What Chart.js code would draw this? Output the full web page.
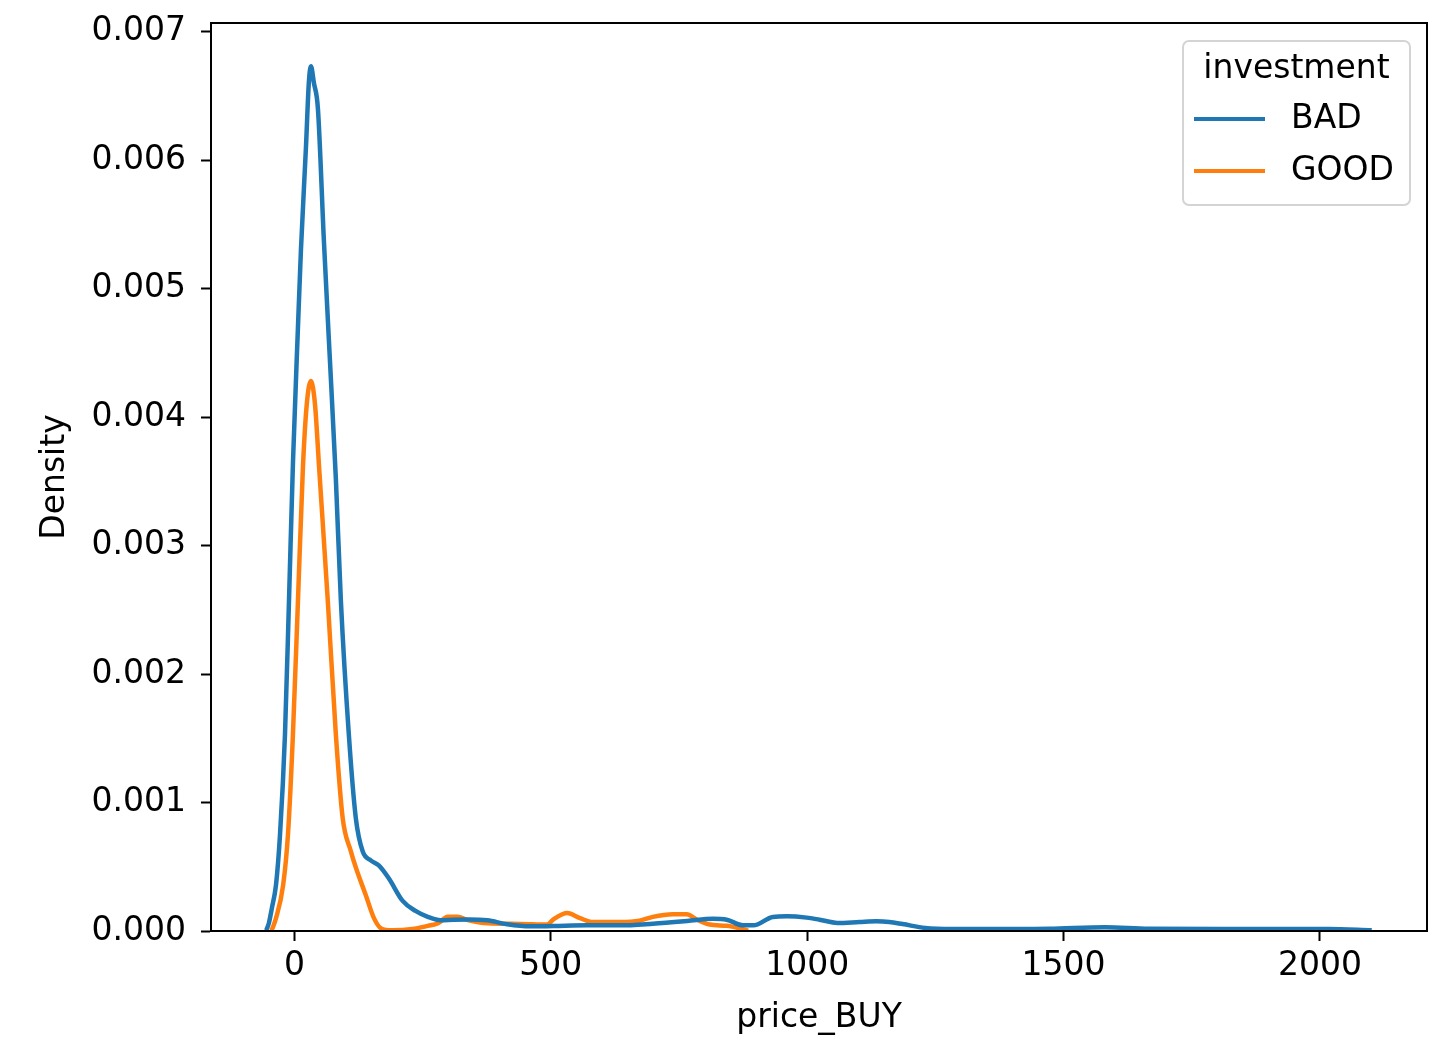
<!DOCTYPE html>
<html><head><meta charset="utf-8">
<script src="https://cdn.jsdelivr.net/npm/chart.js@4.4.1/dist/chart.umd.min.js"></script>
<style>html,body{margin:0;padding:0;background:#fff;overflow:hidden}#wrap{width:1453px;height:1038px}</style>
</head><body><div id="wrap"><canvas id="c" width="1453" height="1038"></canvas></div>
<script>
const seriesNames = ['BAD', 'GOOD'];
const seriesColors = ['#1f77b4', '#ff7f0e'];
const legendTitle = 'investment';
const xAxisTitle = 'price_BUY';
const yAxisTitle = 'Density';
const xTickValues = [0, 500, 1000, 1500, 2000];
const yTickValues = [0, 0.001, 0.002, 0.003, 0.004, 0.005, 0.006, 0.007];

const badPrice = [-55, -50, -44, -36, -28.2, -18.5, -10.7, -2.9, 6.8, 12.6, 22.4, 28, 32.1, 37.9, 45.7, 57.4, 67.1, 80.7, 90.5, 106, 119.6, 133, 148.8, 164.4, 183.9, 211, 236, 260, 285, 310, 340, 376, 415, 460, 505, 571, 635, 699, 766, 816, 843, 875, 895, 933, 960, 999, 1024, 1059, 1102, 1135, 1160, 1186, 1230, 1283, 1374, 1472, 1581, 1666, 1861, 2017, 2101];
const badDensity = [0.000005, 0.00006, 0.00018, 0.00036, 0.00075, 0.00153, 0.00257, 0.00365, 0.0047, 0.0053, 0.0061, 0.0066, 0.00673, 0.0066, 0.0064, 0.00537, 0.0046, 0.00352, 0.00257, 0.00153, 0.00088, 0.00062, 0.00055, 0.00051, 0.00041, 0.000234, 0.000156, 0.00011, 0.000083, 0.000088, 0.00009, 0.000083, 0.000052, 0.000036, 0.000039, 0.000044, 0.000044, 0.000057, 0.000078, 0.000096, 0.000088, 0.000044, 0.000044, 0.000109, 0.000114, 0.000104, 0.000088, 0.000063, 0.00007, 0.000075, 0.00007, 0.000054, 0.000024, 0.000016, 0.000016, 0.000018, 0.00003, 0.000018, 0.000016, 0.000015, 0.000005];

const goodPrice = [-45, -42, -36, -22, -12.7, -3, 6.8, 16.5, 24, 32.1, 40, 48, 65, 80.7, 94, 110, 120, 139, 155, 169, 190, 230, 260, 280, 299, 318, 338, 377, 441, 493, 505, 532, 557, 582, 634, 673, 699, 738, 765, 784, 810, 843, 869, 885];
const goodDensity = [0.000005, 0.00003, 0.0001, 0.00036, 0.00075, 0.00153, 0.00257, 0.00361, 0.0041, 0.00428, 0.0041, 0.00361, 0.00257, 0.00153, 0.00088, 0.00062, 0.00049, 0.00028, 0.0001, 0.00002, 0.000005, 0.000015, 0.00004, 0.00006, 0.00011, 0.00011, 0.000085, 0.00006, 0.000055, 0.00005, 0.00009, 0.00014, 0.0001, 0.00007, 0.00007, 0.00008, 0.00011, 0.00013, 0.00013, 0.00009, 0.00005, 0.00004, 0.00002, 0.000003];

const toPoints = (xs, ys) => xs.map((x, i) => ({x: x, y: ys[i]}));
const allX = badPrice.concat(goodPrice);
const allY = badDensity.concat(goodDensity);
const xLo = Math.min(...allX), xHi = Math.max(...allX);
const xPad = (xHi - xLo) * 0.05;
const yMax = Math.max(...allY) * 1.05;

const FONT = 'DejaVu Sans';
const FS = 33;

const framePlugin = {
  id: 'frame',
  afterDraw(chart) {
    const {ctx, chartArea: a} = chart;
    ctx.save();
    ctx.strokeStyle = '#000';
    ctx.lineWidth = 2;
    ctx.strokeRect(a.left, a.top, a.right - a.left, a.bottom - a.top);
    ctx.restore();
  }
};

const legendPlugin = {
  id: 'mplLegend',
  afterDraw(chart) {
    const {ctx, chartArea: a} = chart;
    const bw = 227, bh = 164;
    const bx = a.right - 17 - bw, by = a.top + 18;
    ctx.save();
    ctx.beginPath();
    if (ctx.roundRect) ctx.roundRect(bx, by, bw, bh, 6); else ctx.rect(bx, by, bw, bh);
    ctx.fillStyle = 'rgba(255,255,255,0.8)';
    ctx.fill();
    ctx.strokeStyle = '#d4d4d4';
    ctx.lineWidth = 2;
    ctx.stroke();
    ctx.font = FS + 'px "' + FONT + '"';
    ctx.fillStyle = '#000';
    ctx.textBaseline = 'middle';
    ctx.textAlign = 'center';
    ctx.fillText(legendTitle, bx + bw / 2, by + 28);
    ctx.textAlign = 'left';
    chart.data.datasets.forEach((ds, i) => {
      const ly = by + 78 + i * 52;
      ctx.strokeStyle = ds.borderColor;
      ctx.lineWidth = 4;
      ctx.beginPath();
      ctx.moveTo(bx + 11, ly);
      ctx.lineTo(bx + 82, ly);
      ctx.stroke();
      ctx.fillStyle = '#000';
      ctx.fillText(ds.label, bx + 108, ly);
    });
    ctx.restore();
  }
};

new Chart(document.getElementById('c'), {
  type: 'line',
  data: {
    datasets: [
      {label: seriesNames[0], data: toPoints(badPrice, badDensity), borderColor: seriesColors[0], backgroundColor: seriesColors[0], borderWidth: 4.5, pointRadius: 0, cubicInterpolationMode: 'monotone', fill: false},
      {label: seriesNames[1], data: toPoints(goodPrice, goodDensity), borderColor: seriesColors[1], backgroundColor: seriesColors[1], borderWidth: 4.5, pointRadius: 0, cubicInterpolationMode: 'monotone', fill: false}
    ]
  },
  options: {
    responsive: false,
    animation: false,
    devicePixelRatio: 1,
    layout: {padding: {left: 0, right: 26, top: 23, bottom: 0}},
    plugins: {legend: {display: false}, tooltip: {enabled: false}},
    scales: {
      x: {
        type: 'linear',
        min: xLo - xPad,
        max: xHi + xPad,
        afterBuildTicks(s) { s.ticks = xTickValues.map(v => ({value: v})); },
        afterFit(s) { s.height = 107; s.paddingLeft = 0; s.paddingRight = 0; },
        border: {display: true, color: '#000', width: 2},
        grid: {display: true, drawOnChartArea: false, drawTicks: true, tickLength: 10, color: '#000', tickWidth: 2},
        ticks: {autoSkip: false, color: '#000', padding: 6, maxRotation: 0, font: {family: FONT, size: FS}, callback: v => String(v)},
        title: {display: true, text: xAxisTitle, color: '#000', font: {family: FONT, size: FS}, padding: {top: 0, bottom: 0}}
      },
      y: {
        type: 'linear',
        min: 0,
        max: yMax,
        afterBuildTicks(s) { s.ticks = yTickValues.map(v => ({value: v})); },
        afterFit(s) { s.width = 211; s.paddingTop = 0; s.paddingBottom = 0; },
        border: {display: true, color: '#000', width: 2},
        grid: {display: true, drawOnChartArea: false, drawTicks: true, tickLength: 10, color: '#000', tickWidth: 2},
        ticks: {autoSkip: false, color: '#000', padding: 15, font: {family: FONT, size: FS}, callback: v => v.toFixed(3)},
        title: {display: true, text: yAxisTitle, color: '#000', font: {family: FONT, size: FS}, padding: {top: 36, bottom: 0}}
      }
    }
  },
  plugins: [framePlugin, legendPlugin]
});
</script></body></html>
